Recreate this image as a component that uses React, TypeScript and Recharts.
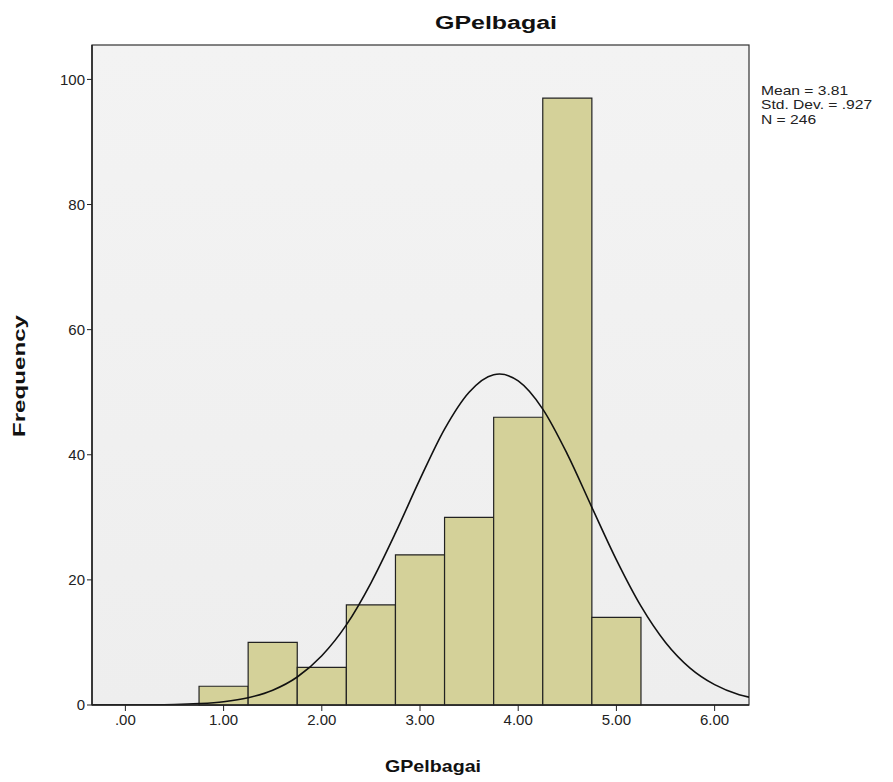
import { ComposedChart, Line, XAxis, YAxis, ReferenceArea, CartesianGrid } from "recharts";

// histogram bins (lower edge, upper edge, frequency)
const binLow = [0.75, 1.25, 1.75, 2.25, 2.75, 3.25, 3.75, 4.25, 4.75];
const binHigh = [1.25, 1.75, 2.25, 2.75, 3.25, 3.75, 4.25, 4.75, 5.25];
const counts = [3, 10, 6, 16, 24, 30, 46, 97, 14];

// normal curve
const curveX = [-0.34, 0, 0.5, 0.75, 1, 1.25, 1.5, 1.75, 2, 2.25, 2.5, 2.75, 3, 3.25, 3.5, 3.75, 3.81, 4, 4.25, 4.5, 4.75, 5, 5.25, 5.5, 5.75, 6, 6.25, 6.35];
const curveY = [0, 0.01, 0.09, 0.23, 0.53, 1.17, 2.37, 4.48, 7.87, 12.8, 19.5, 27.5, 36.1, 44.1, 50.0, 52.8, 52.9, 51.8, 47.3, 40.1, 31.6, 23.2, 15.8, 10.0, 5.9, 3.25, 1.65, 1.25];

const xTicks = [0, 1, 2, 3, 4, 5, 6];
const yTicks = [0, 20, 40, 60, 80, 100];

const stats = ["Mean = 3.81", "Std. Dev. = .927", "N = 246"];

const curveData = curveX.map((x, i) => ({ x, y: curveY[i] }));

const font = "'Liberation Sans', Arial, sans-serif";

export default function App() {
  return (
    <div style={{ position: "absolute", left: 0, top: 0, width: 893, height: 782, background: "#fff", fontFamily: font }}>
      <ComposedChart
        width={893}
        height={782}
        data={curveData}
        margin={{ top: 45, right: 144, bottom: 0, left: 0 }}
      >
        <defs>
          <linearGradient id="plotBg" x1="0" y1="0" x2="0" y2="1">
            <stop offset="0%" stopColor="#f3f3f3" />
            <stop offset="100%" stopColor="#eeeeee" />
          </linearGradient>
        </defs>
        <CartesianGrid vertical={false} horizontal={false} fill="url(#plotBg)" stroke="none" />
        <XAxis
          dataKey="x"
          type="number"
          domain={[-0.34, 6.35]}
          ticks={xTicks}
          allowDataOverflow
          tickFormatter={(v: number) => (v === 0 ? ".00" : v.toFixed(2))}
          tick={{ fill: "#222", fontSize: 15, fontFamily: font }}
          tickSize={6}
          tickMargin={3}
          tickLine={{ stroke: "#222" }}
          axisLine={{ stroke: "#222", strokeWidth: 1.5 }}
          height={77}
        />
        <YAxis
          type="number"
          domain={[0, 105.5]}
          ticks={yTicks}
          allowDataOverflow
          tick={{ fill: "#222", fontSize: 15, fontFamily: font }}
          tickSize={5}
          tickMargin={2}
          tickLine={{ stroke: "#222" }}
          axisLine={{ stroke: "#222", strokeWidth: 1.5 }}
          width={92}
        />
        {counts.map((c, i) => (
          <ReferenceArea
            key={i}
            x1={binLow[i]}
            x2={binHigh[i]}
            y1={0}
            y2={c}
            fill="#d4d199"
            fillOpacity={1}
            stroke="#222"
            strokeWidth={1.2}
            ifOverflow="visible"
          />
        ))}
        <Line
          dataKey="y"
          type="monotone"
          stroke="#111"
          strokeWidth={1.6}
          dot={false}
          isAnimationActive={false}
        />
        <rect x={92} y={45} width={657} height={660} fill="none" stroke="#333" strokeWidth={1.2} />
        <text x={496} y={29} textAnchor="middle" fontSize={18} fontWeight="bold" fontFamily={font} fill="#111" textLength={122} lengthAdjust="spacingAndGlyphs">
          GPelbagai
        </text>
        <text x={433} y={772} textAnchor="middle" fontSize={17} fontWeight="bold" fontFamily={font} fill="#111" textLength={96} lengthAdjust="spacingAndGlyphs">
          GPelbagai
        </text>
        <text transform="translate(25,376) rotate(-90)" textAnchor="middle" fontSize={17} fontWeight="bold" fontFamily={font} fill="#111" textLength={122} lengthAdjust="spacingAndGlyphs">
          Frequency
        </text>
        <g transform="translate(761,0) scale(1.25,1)">
          {stats.map((s, i) => (
            <text key={s} x={0} y={95 + i * 14.5} fontSize={12.5} fontFamily={font} fill="#222">
              {s}
            </text>
          ))}
        </g>
      </ComposedChart>
    </div>
  );
}
